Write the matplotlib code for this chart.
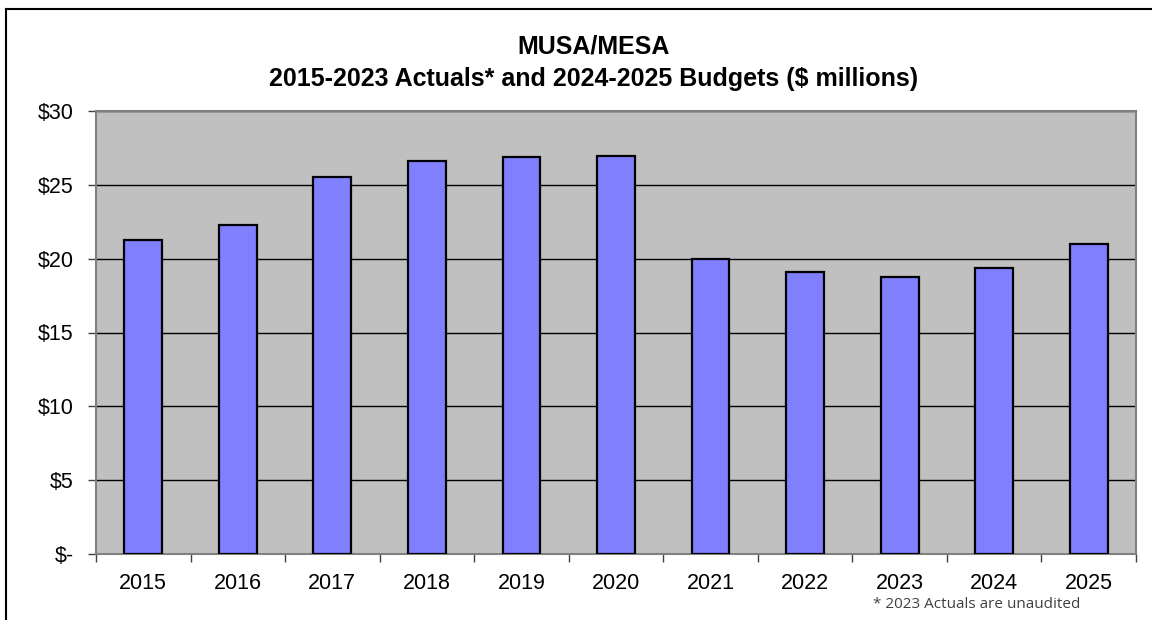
import matplotlib.pyplot as plt
from matplotlib.lines import Line2D
from matplotlib.ticker import FuncFormatter

# MUSA/MESA spending by year, $ millions
years = ['2015', '2016', '2017', '2018', '2019', '2020',
         '2021', '2022', '2023', '2024', '2025']
amounts = [21.25, 22.27, 25.5, 26.6, 26.9, 26.97,
           19.95, 19.1, 18.74, 19.35, 20.96]

plt.rcParams['font.family'] = ['Liberation Sans', 'DejaVu Sans']

fig = plt.figure(figsize=(11.52, 6.2), dpi=100)
ax = fig.add_axes([96 / 1152, 66 / 620, 1040 / 1152, 443 / 620])

x = range(len(years))
ax.bar(x, amounts, width=0.4, color='#8080FF', edgecolor='black',
       linewidth=1.6, zorder=3)

ax.set_facecolor('#C0C0C0')
ax.set_xlim(-0.5, len(years) - 0.5)
ax.set_ylim(0, 30)
ax.set_yticks(range(0, 31, 5))
ax.yaxis.set_major_formatter(
    FuncFormatter(lambda v, p: '$-' if v == 0 else f'${v:.0f}'))
ax.grid(axis='y', color='black', linewidth=1.0, zorder=1)

# tick marks sit between the categories, labels under the bars
ax.set_xticks([i - 0.5 for i in range(len(years) + 1)])
ax.set_xticklabels([])
ax.set_xticks(list(x), minor=True)
ax.set_xticklabels(years, minor=True)
ax.tick_params(axis='x', which='major', length=6, width=1, color='#404040')
ax.tick_params(axis='x', which='minor', length=0, pad=14, labelsize=15.5)
ax.tick_params(axis='y', length=6, width=1, color='#404040', labelsize=15.5,
               pad=10)

for side in ['left', 'bottom', 'top', 'right']:
    ax.spines[side].set_color('#808080')
    ax.spines[side].set_linewidth(1.5)

fig.text(0.5 + 18 / 1152, 1 - 47 / 620, 'MUSA/MESA', ha='center', va='center',
         fontsize=18, fontweight='bold')
fig.text(0.5 + 18 / 1152, 1 - 79 / 620,
         '2015-2023 Actuals* and 2024-2025 Budgets ($ millions)',
         ha='center', va='center', fontsize=18, fontweight='bold')
fig.text(1080 / 1152, 1 - 604 / 620, '* 2023 Actuals are unaudited',
         ha='right', va='center', fontsize=11, color='#404040',
         family=['Open Sans', 'DejaVu Sans'])

# outer frame (top and left edges only show)
fig.add_artist(Line2D([6 / 1152, 1], [1 - 9 / 620, 1 - 9 / 620],
                      transform=fig.transFigure, color='black', linewidth=1.5))
fig.add_artist(Line2D([6 / 1152, 6 / 1152], [0, 1 - 9 / 620],
                      transform=fig.transFigure, color='black', linewidth=1.5))

fig.savefig('out.png', dpi=100)
